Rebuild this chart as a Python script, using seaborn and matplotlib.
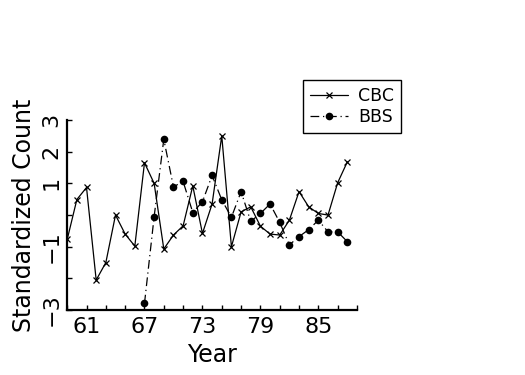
import matplotlib
matplotlib.use('Agg')
import matplotlib.pyplot as plt
import seaborn as sns
import numpy as np
from matplotlib.ticker import FixedLocator

# data
cbc_years = list(range(59, 89))
cbc_values = [-0.77, 0.49, 0.87, -2.05, -1.5, 0.0, -0.6, -0.98, 1.65, 1.0,
              -1.07, -0.63, -0.34, 0.92, -0.58, 0.35, 2.5, -1.0, 0.1, 0.26,
              -0.35, -0.6, -0.63, -0.16, 0.74, 0.26, 0.05, 0.0, 1.02, 1.68]
bbs_years = list(range(67, 89))
bbs_values = [-2.79, -0.05, 2.39, 0.89, 1.06, 0.08, 0.42, 1.25, 0.48, -0.07,
              0.74, -0.2, 0.05, 0.35, -0.23, -0.94, -0.68, -0.46, -0.16,
              -0.53, -0.53, -0.84]
x_labels = [61, 67, 73, 79, 85]
y_labels = [3, 2, 1, -1, -3]

sns.set_style('ticks')
plt.rcParams['font.family'] = ['DejaVu Sans']
plt.rcParams['text.color'] = 'black'
plt.rcParams['axes.labelcolor'] = 'black'

fig = plt.figure(figsize=(5.25, 3.75), dpi=100)
ax = fig.add_axes([0.128, 0.173, 0.552, 0.507])

sns.lineplot(x=cbc_years, y=cbc_values, ax=ax, color='black', linewidth=0.9,
             marker='x', markersize=4, markeredgewidth=0.9, markeredgecolor='black',
             label='CBC', legend=False)
sns.lineplot(x=bbs_years, y=bbs_values, ax=ax, color='black', linewidth=0.9,
             marker='o', markersize=5.5, markeredgewidth=0, markeredgecolor='black',
             label='BBS', legend=False)
ax.lines[1].set_dashes([7, 3, 1, 3])

ax.set_xlim(59, 89)
ax.set_ylim(-3, 3)
ax.set_xticks(x_labels)
ax.set_xticklabels([str(v) for v in x_labels])
ax.xaxis.set_minor_locator(FixedLocator(np.arange(59, 90, 2)))
ax.set_yticks(y_labels)
ax.set_yticklabels([str(v).replace('-', '\u2212') for v in y_labels], rotation=90, va='center')
ax.yaxis.set_minor_locator(FixedLocator([0, -2]))

ax.tick_params(which='both', direction='in', length=3.5, width=1, colors='black')
ax.tick_params(axis='x', labelsize=16, pad=5)
ax.tick_params(axis='y', labelsize=16, pad=4)
for side in ['top', 'right']:
    ax.spines[side].set_visible(False)
for side in ['left', 'bottom']:
    ax.spines[side].set_linewidth(1.6)
    ax.spines[side].set_color('black')

ax.set_xlabel('Year', fontsize=17, labelpad=4)
ax.set_ylabel('Standardized Count', fontsize=17, labelpad=4)

handles, labels = ax.get_legend_handles_labels()
leg = fig.legend(handles, labels, loc='upper left', bbox_to_anchor=(0.577, 0.787),
                 borderaxespad=0, fancybox=False, edgecolor='black', framealpha=1,
                 fontsize=12.5, handlelength=2.2, handletextpad=0.6, labelspacing=0.2,
                 borderpad=0.4)
leg.get_frame().set_linewidth(1)

fig.savefig('out.png', dpi=100)
